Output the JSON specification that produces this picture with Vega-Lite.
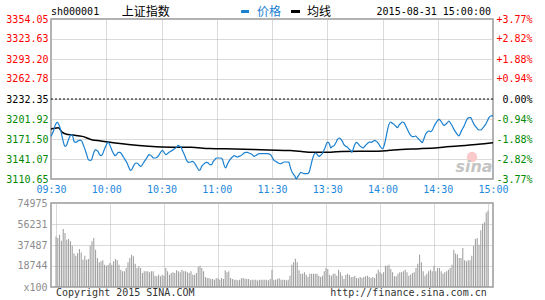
{
  "$schema": "https://vega.github.io/schema/vega-lite/v6.json",
  "background": "white",
  "padding": {"left": 5, "top": 5, "right": 0, "bottom": 0},
  "spacing": 24,
  "bounds": "flush",
  "config": {
    "view": {"stroke": "#999999", "strokeWidth": 1.5},
    "axis": {"labelFont": "DejaVu Sans Mono", "labelFontSize": 10, "ticks": false, "tickSize": 0, "domain": false, "gridColor": "#b4b4b4", "gridDash": [1, 1], "gridWidth": 1}
  },
  "datasets": {
    "price": [
      {"t":0,"p":3175.6},{"t":1.3,"p":3183.2},{"t":2.2,"p":3191.8},{"t":3.4,"p":3196.9},{"t":4.3,"p":3193.3},{"t":5.2,"p":3185.7},{"t":6.2,"p":3173.0},{"t":7.1,"p":3162.9},{"t":7.6,"p":3160.3},{"t":8.3,"p":3161.4},{"t":9.2,"p":3168.0},{"t":10.1,"p":3174.5},{"t":11.0,"p":3178.1},{"t":11.8,"p":3175.6},{"t":12.5,"p":3168.0},{"t":13.4,"p":3166.4},{"t":14.3,"p":3167.9},{"t":15.2,"p":3169.5},{"t":16.3,"p":3169.5},{"t":17.0,"p":3166.4},{"t":17.7,"p":3161.4},{"t":18.5,"p":3155.3},{"t":19.4,"p":3147.7},{"t":20.3,"p":3140.1},{"t":21.4,"p":3139.0},{"t":22.1,"p":3140.1},{"t":22.6,"p":3145.1},{"t":23.3,"p":3151.2},{"t":24.1,"p":3155.3},{"t":24.8,"p":3154.3},{"t":25.5,"p":3152.7},{"t":26.4,"p":3147.7},{"t":27.3,"p":3146.1},{"t":28.1,"p":3149.2},{"t":28.8,"p":3154.3},{"t":29.7,"p":3160.3},{"t":30.6,"p":3165.4},{"t":31.1,"p":3166.4},{"t":31.9,"p":3162.9},{"t":32.6,"p":3157.8},{"t":33.3,"p":3152.7},{"t":34.0,"p":3149.2},{"t":34.8,"p":3146.1},{"t":35.7,"p":3148.2},{"t":36.6,"p":3151.2},{"t":37.5,"p":3151.2},{"t":38.2,"p":3149.2},{"t":39.1,"p":3145.1},{"t":40.2,"p":3140.1},{"t":41.3,"p":3135.0},{"t":42.4,"p":3127.4},{"t":43.1,"p":3123.8},{"t":43.8,"p":3124.9},{"t":44.7,"p":3129.9},{"t":45.6,"p":3134.0},{"t":46.3,"p":3135.0},{"t":47.2,"p":3134.0},{"t":48.1,"p":3130.9},{"t":48.9,"p":3129.9},{"t":49.6,"p":3132.5},{"t":50.7,"p":3137.5},{"t":51.4,"p":3140.1},{"t":52.5,"p":3145.1},{"t":53.2,"p":3147.7},{"t":53.9,"p":3147.2},{"t":54.8,"p":3145.1},{"t":55.7,"p":3142.6},{"t":56.7,"p":3142.6},{"t":57.6,"p":3143.6},{"t":58.6,"p":3147.0},{"t":59.5,"p":3151.2},{"t":60.5,"p":3154.3},{"t":61.4,"p":3151.2},{"t":62.3,"p":3147.7},{"t":63.2,"p":3149.2},{"t":64.1,"p":3151.2},{"t":65.0,"p":3152.7},{"t":65.9,"p":3154.3},{"t":66.8,"p":3156.3},{"t":67.7,"p":3157.8},{"t":68.6,"p":3160.3},{"t":69.1,"p":3161.9},{"t":69.9,"p":3160.3},{"t":70.6,"p":3159.3},{"t":71.3,"p":3154.3},{"t":72.2,"p":3149.2},{"t":73.1,"p":3142.6},{"t":74.0,"p":3137.5},{"t":74.9,"p":3136.0},{"t":75.8,"p":3136.5},{"t":76.7,"p":3137.5},{"t":77.6,"p":3136.0},{"t":78.5,"p":3132.5},{"t":79.5,"p":3127.4},{"t":80.4,"p":3123.8},{"t":81.1,"p":3124.9},{"t":81.8,"p":3129.9},{"t":82.7,"p":3132.5},{"t":83.6,"p":3135.0},{"t":84.5,"p":3136.0},{"t":85.4,"p":3135.0},{"t":86.2,"p":3132.5},{"t":87.2,"p":3132.5},{"t":88.1,"p":3137.5},{"t":89.0,"p":3140.1},{"t":89.8,"p":3142.6},{"t":90.7,"p":3142.6},{"t":92.1,"p":3142.6},{"t":93.0,"p":3141.1},{"t":93.9,"p":3132.5},{"t":94.8,"p":3127.4},{"t":95.7,"p":3132.5},{"t":96.6,"p":3137.5},{"t":97.5,"p":3141.1},{"t":98.5,"p":3144.1},{"t":99.4,"p":3146.1},{"t":100.3,"p":3145.1},{"t":101.2,"p":3144.1},{"t":102.1,"p":3145.1},{"t":103.0,"p":3146.1},{"t":103.9,"p":3147.7},{"t":104.8,"p":3150.2},{"t":105.7,"p":3151.2},{"t":106.6,"p":3151.2},{"t":107.5,"p":3150.2},{"t":108.4,"p":3149.2},{"t":109.3,"p":3147.7},{"t":110.2,"p":3145.1},{"t":112.0,"p":3147.7},{"t":112.9,"p":3149.2},{"t":114.7,"p":3149.2},{"t":117.5,"p":3149.2},{"t":119.3,"p":3147.7},{"t":120.2,"p":3143.0},{"t":121.1,"p":3139.0},{"t":122.0,"p":3137.5},{"t":123.4,"p":3135.0},{"t":124.7,"p":3134.0},{"t":125.6,"p":3135.0},{"t":126.5,"p":3136.5},{"t":128.3,"p":3136.5},{"t":129.2,"p":3136.0},{"t":129.8,"p":3129.9},{"t":130.5,"p":3123.8},{"t":131.4,"p":3118.8},{"t":132.5,"p":3114.7},{"t":133.2,"p":3110.6},{"t":133.9,"p":3113.7},{"t":134.7,"p":3117.2},{"t":135.6,"p":3120.8},{"t":136.5,"p":3119.8},{"t":137.4,"p":3118.8},{"t":138.3,"p":3118.8},{"t":139.2,"p":3118.8},{"t":140.1,"p":3120.8},{"t":141.0,"p":3129.9},{"t":141.9,"p":3140.1},{"t":142.8,"p":3147.7},{"t":143.7,"p":3150.2},{"t":144.6,"p":3147.7},{"t":145.5,"p":3145.1},{"t":146.4,"p":3146.6},{"t":147.3,"p":3149.2},{"t":148.2,"p":3154.3},{"t":149.1,"p":3160.3},{"t":150.0,"p":3166.4},{"t":150.6,"p":3166.4},{"t":151.3,"p":3162.9},{"t":151.9,"p":3157.8},{"t":152.8,"p":3160.3},{"t":153.7,"p":3161.4},{"t":154.6,"p":3165.4},{"t":155.5,"p":3170.5},{"t":156.4,"p":3173.0},{"t":157.3,"p":3171.5},{"t":158.2,"p":3167.9},{"t":159.1,"p":3162.9},{"t":160.0,"p":3160.3},{"t":160.9,"p":3159.3},{"t":161.8,"p":3156.3},{"t":162.7,"p":3154.3},{"t":163.3,"p":3151.2},{"t":164.0,"p":3155.3},{"t":164.9,"p":3162.9},{"t":165.8,"p":3166.4},{"t":166.7,"p":3164.4},{"t":167.6,"p":3161.4},{"t":168.5,"p":3159.3},{"t":169.4,"p":3157.8},{"t":170.3,"p":3160.3},{"t":171.2,"p":3162.9},{"t":172.1,"p":3165.4},{"t":173.0,"p":3166.9},{"t":173.9,"p":3166.4},{"t":174.8,"p":3167.9},{"t":175.8,"p":3169.5},{"t":176.7,"p":3167.9},{"t":177.6,"p":3165.4},{"t":178.5,"p":3161.5},{"t":179.4,"p":3158.0},{"t":180.1,"p":3156.8},{"t":180.8,"p":3160.9},{"t":181.7,"p":3171.0},{"t":182.6,"p":3183.7},{"t":183.5,"p":3193.8},{"t":184.4,"p":3197.4},{"t":185.3,"p":3195.3},{"t":186.2,"p":3193.8},{"t":187.1,"p":3191.3},{"t":188.1,"p":3188.7},{"t":188.9,"p":3192.3},{"t":189.9,"p":3195.3},{"t":190.8,"p":3197.4},{"t":191.7,"p":3196.3},{"t":192.6,"p":3191.3},{"t":193.5,"p":3186.2},{"t":194.4,"p":3181.1},{"t":195.3,"p":3177.1},{"t":196.2,"p":3175.0},{"t":197.1,"p":3175.0},{"t":198.0,"p":3176.1},{"t":198.9,"p":3173.5},{"t":199.8,"p":3171.0},{"t":200.7,"p":3168.5},{"t":201.6,"p":3165.9},{"t":202.5,"p":3172.0},{"t":203.4,"p":3178.6},{"t":204.3,"p":3182.2},{"t":205.2,"p":3183.7},{"t":206.1,"p":3182.7},{"t":207.1,"p":3185.2},{"t":207.9,"p":3190.3},{"t":208.9,"p":3195.3},{"t":209.8,"p":3198.9},{"t":210.7,"p":3201.4},{"t":211.6,"p":3198.9},{"t":212.5,"p":3195.3},{"t":213.4,"p":3192.3},{"t":214.3,"p":3193.8},{"t":215.2,"p":3196.3},{"t":216.1,"p":3198.9},{"t":217.0,"p":3195.3},{"t":217.9,"p":3191.3},{"t":218.8,"p":3186.2},{"t":219.7,"p":3182.2},{"t":220.6,"p":3178.6},{"t":221.5,"p":3176.1},{"t":222.4,"p":3181.1},{"t":223.3,"p":3186.2},{"t":224.3,"p":3191.3},{"t":225.2,"p":3197.4},{"t":226.1,"p":3202.4},{"t":227.0,"p":3203.9},{"t":227.9,"p":3203.9},{"t":228.8,"p":3198.9},{"t":229.7,"p":3193.8},{"t":230.6,"p":3190.3},{"t":231.5,"p":3187.2},{"t":232.4,"p":3185.2},{"t":233.3,"p":3185.2},{"t":234.2,"p":3187.2},{"t":235.1,"p":3190.3},{"t":236.0,"p":3193.8},{"t":236.9,"p":3198.9},{"t":237.8,"p":3203.9},{"t":238.7,"p":3206.5},{"t":239.6,"p":3207.0},{"t":240,"p":3207.5}
    ],
    "avg": [
      {"t":0,"a":3186.7},{"t":2,"a":3188.0},{"t":4,"a":3188.5},{"t":6,"a":3182.0},{"t":8,"a":3179.0},{"t":12,"a":3177.5},{"t":17,"a":3175.5},{"t":22,"a":3170.5},{"t":27,"a":3168.5},{"t":32,"a":3166.5},{"t":42,"a":3163.0},{"t":53,"a":3160.3},{"t":60,"a":3159.3},{"t":76,"a":3158.8},{"t":86,"a":3157.0},{"t":100,"a":3156.3},{"t":118,"a":3154.8},{"t":130,"a":3154.0},{"t":135,"a":3152.8},{"t":142,"a":3151.3},{"t":152,"a":3151.5},{"t":158,"a":3152.5},{"t":178,"a":3153.0},{"t":184,"a":3154.3},{"t":190,"a":3155.6},{"t":200,"a":3156.8},{"t":210,"a":3158.3},{"t":221,"a":3160.9},{"t":232,"a":3163.4},{"t":240,"a":3165.9}
    ],
    "vol": [
      {"t":0,"v":45000},{"t":1,"v":43700},{"t":2,"v":46700},{"t":3,"v":41300},{"t":4,"v":51800},{"t":5,"v":48200},{"t":6,"v":42200},{"t":7,"v":42800},{"t":8,"v":40800},{"t":9,"v":36900},{"t":10,"v":30000},{"t":11,"v":27900},{"t":12,"v":30300},{"t":13,"v":33900},{"t":14,"v":30900},{"t":15,"v":24400},{"t":16,"v":27900},{"t":17,"v":24400},{"t":18,"v":25000},{"t":19,"v":36900},{"t":20,"v":40800},{"t":21,"v":43700},{"t":22,"v":33300},{"t":23,"v":25900},{"t":24,"v":22000},{"t":25,"v":22900},{"t":26,"v":23800},{"t":27,"v":19900},{"t":28,"v":19000},{"t":29,"v":19900},{"t":30,"v":21400},{"t":31,"v":19900},{"t":32,"v":22900},{"t":33,"v":25000},{"t":34,"v":23800},{"t":35,"v":19900},{"t":36,"v":15500},{"t":37,"v":14000},{"t":38,"v":14000},{"t":39,"v":17000},{"t":40,"v":22000},{"t":41,"v":25900},{"t":42,"v":28800},{"t":43,"v":27400},{"t":44,"v":20800},{"t":45,"v":17000},{"t":46,"v":18500},{"t":47,"v":17000},{"t":48,"v":12500},{"t":49,"v":14000},{"t":50,"v":14000},{"t":51,"v":14000},{"t":52,"v":13100},{"t":53,"v":14000},{"t":54,"v":14000},{"t":55,"v":10100},{"t":56,"v":9500},{"t":57,"v":11000},{"t":58,"v":9500},{"t":59,"v":11000},{"t":60,"v":10100},{"t":61,"v":17000},{"t":62,"v":14000},{"t":63,"v":11000},{"t":64,"v":12500},{"t":65,"v":13100},{"t":66,"v":12500},{"t":67,"v":14900},{"t":68,"v":14000},{"t":69,"v":13100},{"t":70,"v":15500},{"t":71,"v":14000},{"t":72,"v":14000},{"t":73,"v":13100},{"t":74,"v":12500},{"t":75,"v":14000},{"t":76,"v":11000},{"t":77,"v":11000},{"t":78,"v":12500},{"t":79,"v":17900},{"t":80,"v":19000},{"t":81,"v":17000},{"t":82,"v":14000},{"t":83,"v":8900},{"t":84,"v":8000},{"t":85,"v":8000},{"t":86,"v":7100},{"t":87,"v":7100},{"t":88,"v":6500},{"t":89,"v":7700},{"t":90,"v":7700},{"t":91,"v":6500},{"t":92,"v":8000},{"t":93,"v":7100},{"t":94,"v":14900},{"t":95,"v":13100},{"t":96,"v":14000},{"t":97,"v":8000},{"t":98,"v":7100},{"t":99,"v":6500},{"t":100,"v":6500},{"t":101,"v":6000},{"t":102,"v":6500},{"t":103,"v":7700},{"t":104,"v":8000},{"t":105,"v":7400},{"t":106,"v":7100},{"t":107,"v":7100},{"t":108,"v":6000},{"t":109,"v":6500},{"t":110,"v":6500},{"t":111,"v":6500},{"t":112,"v":5800},{"t":113,"v":6500},{"t":114,"v":6500},{"t":115,"v":6500},{"t":116,"v":6500},{"t":117,"v":6500},{"t":118,"v":6000},{"t":119,"v":7100},{"t":120,"v":15500},
      {"t":121,"v":6500},{"t":122,"v":6500},{"t":123,"v":7100},{"t":124,"v":7700},{"t":125,"v":6500},{"t":126,"v":6500},{"t":127,"v":6500},{"t":128,"v":6000},{"t":129,"v":6500},{"t":130,"v":10100},{"t":131,"v":19900},{"t":132,"v":22000},{"t":133,"v":25300},{"t":134,"v":22000},{"t":135,"v":14900},{"t":136,"v":11900},{"t":137,"v":11900},{"t":138,"v":13100},{"t":139,"v":11000},{"t":140,"v":8900},{"t":141,"v":11900},{"t":142,"v":11900},{"t":143,"v":11900},{"t":144,"v":11900},{"t":145,"v":11900},{"t":146,"v":10100},{"t":147,"v":8900},{"t":148,"v":10100},{"t":149,"v":14000},{"t":150,"v":17000},{"t":151,"v":16100},{"t":152,"v":11000},{"t":153,"v":10100},{"t":154,"v":11900},{"t":155,"v":11900},{"t":156,"v":10100},{"t":157,"v":15500},{"t":158,"v":13100},{"t":159,"v":10100},{"t":160,"v":7100},{"t":161,"v":11000},{"t":162,"v":11900},{"t":163,"v":10700},{"t":164,"v":8900},{"t":165,"v":8900},{"t":166,"v":10100},{"t":167,"v":8000},{"t":168,"v":7700},{"t":169,"v":8900},{"t":170,"v":8000},{"t":171,"v":8900},{"t":172,"v":9500},{"t":173,"v":10100},{"t":174,"v":8900},{"t":175,"v":8000},{"t":176,"v":8900},{"t":177,"v":8000},{"t":178,"v":11900},{"t":179,"v":15500},{"t":180,"v":13100},{"t":181,"v":11900},{"t":182,"v":13100},{"t":183,"v":19000},{"t":184,"v":19000},{"t":185,"v":19900},{"t":186,"v":16100},{"t":187,"v":13100},{"t":188,"v":9500},{"t":189,"v":9500},{"t":190,"v":11900},{"t":191,"v":13100},{"t":192,"v":13100},{"t":193,"v":14000},{"t":194,"v":15500},{"t":195,"v":13100},{"t":196,"v":10100},{"t":197,"v":11000},{"t":198,"v":12500},{"t":199,"v":13100},{"t":200,"v":17000},{"t":201,"v":20800},{"t":202,"v":28900},{"t":203,"v":22000},{"t":204,"v":14000},{"t":205,"v":10100},{"t":206,"v":11900},{"t":207,"v":14000},{"t":208,"v":15500},{"t":209,"v":14000},{"t":210,"v":19000},{"t":211,"v":14000},{"t":212,"v":17000},{"t":213,"v":17000},{"t":214,"v":14000},{"t":215,"v":11900},{"t":216,"v":13100},{"t":217,"v":14000},{"t":218,"v":15500},{"t":219,"v":17000},{"t":220,"v":19900},{"t":221,"v":33300},{"t":222,"v":29800},{"t":223,"v":28900},{"t":224,"v":25900},{"t":225,"v":25900},{"t":226,"v":34800},{"t":227,"v":23800},{"t":228,"v":22900},{"t":229,"v":23800},{"t":230,"v":23800},{"t":231,"v":28000},{"t":232,"v":36900},{"t":233,"v":42800},{"t":234,"v":43700},{"t":235,"v":37800},{"t":236,"v":50600},{"t":237,"v":56500},{"t":238,"v":57700},{"t":239,"v":66600},{"t":240,"v":68000}
    ],
    "one": [{}]
  },
  "resolve": {"scale": {"x": "independent", "y": "independent"}},
  "vconcat": [
    {
      "width": 442,
      "height": 160,
      "resolve": {"scale": {"y": "independent"}},
      "layer": [
        {
          "data": {"name": "one"},
          "mark": {"type": "point", "shape": "circle", "filled": true, "color": "#f9caca", "size": 110, "opacity": 1},
          "encoding": {
            "x": {"datum": 228.6, "type": "quantitative", "scale": {"domain": [0, 240], "nice": false, "zero": false}},
            "y": {"datum": 3144.1, "type": "quantitative", "scale": {"domain": [3110.65, 3354.05], "nice": false, "zero": false}, "axis": null}
          }
        },
        {
          "data": {"name": "one"},
          "mark": {"type": "text", "text": "sina", "font": "DejaVu Sans", "fontSize": 16, "fontStyle": "italic", "fontWeight": "bold", "color": "#c4c4c4", "align": "center", "baseline": "middle"},
          "encoding": {
            "x": {"datum": 229.7, "type": "quantitative", "scale": {"domain": [0, 240], "nice": false, "zero": false}},
            "y": {"datum": 3128.9, "type": "quantitative", "scale": {"domain": [3110.65, 3354.05], "nice": false, "zero": false}, "axis": null}
          }
        },
        {
          "data": {"name": "avg"},
          "mark": {"type": "line", "color": "#000000", "strokeWidth": 1.5, "interpolate": "monotone"},
          "encoding": {
            "x": {
              "field": "t", "type": "quantitative", "title": null,
              "scale": {"domain": [0, 240], "nice": false, "zero": false},
              "axis": {
                "values": [0, 30, 60, 90, 120, 150, 180, 210, 240],
                "labelExpr": "['09:30','10:00','10:30','11:00','11:30','13:30','14:00','14:30','15:00'][round(datum.value / 30)]",
                "labelColor": "#1e88dd", "labelPadding": 5, "labelFlush": false, "grid": true
              }
            },
            "y": {
              "field": "a", "type": "quantitative", "title": null,
              "scale": {"domain": [3110.65, 3354.05], "nice": false, "zero": false},
              "axis": {
                "orient": "left",
                "values": [3110.65, 3141.07, 3171.5, 3201.92, 3232.35, 3262.78, 3293.2, 3323.63, 3354.05],
                "labelExpr": "format(datum.value, '.2f')",
                "labelPadding": 3, "grid": true,
                "labelColor": {"condition": [{"test": "datum.value > 3232.4", "value": "#ff0000"}, {"test": "datum.value < 3232.3", "value": "#008800"}], "value": "#000000"}
              }
            }
          }
        },
        {
          "data": {"name": "one"},
          "mark": {"type": "rule", "color": "#000000", "strokeWidth": 1, "strokeDash": [2, 2]},
          "encoding": {
            "y": {"datum": 3232.35, "type": "quantitative", "scale": {"domain": [3110.65, 3354.05], "nice": false, "zero": false}, "axis": null}
          }
        },
        {
          "data": {"name": "price"},
          "mark": {"type": "line", "color": "#1a80d0", "strokeWidth": 1.2, "interpolate": "monotone"},
          "encoding": {
            "x": {"field": "t", "type": "quantitative", "title": null, "scale": {"domain": [0, 240], "nice": false, "zero": false}},
            "y": {
              "field": "p", "type": "quantitative", "title": null,
              "scale": {"domain": [3110.65, 3354.05], "nice": false, "zero": false},
              "axis": {
                "orient": "right",
                "values": [3110.65, 3141.07, 3171.5, 3201.92, 3232.35, 3262.78, 3293.2, 3323.63, 3354.05],
                "labelExpr": "(datum.value > 3232.4 ? '+' : (datum.value < 3232.3 ? '-' : '')) + format(abs(datum.value - 3232.35) / 3232.35 * 100, '.2f') + '%'",
                "labelAlign": "right", "labelPadding": 39, "grid": false,
                "labelColor": {"condition": [{"test": "datum.value > 3232.4", "value": "#ff0000"}, {"test": "datum.value < 3232.3", "value": "#008800"}], "value": "#000000"}
              }
            }
          }
        },
        {
          "data": {"name": "one"},
          "mark": {"type": "text", "text": "sh000001", "font": "DejaVu Sans Mono", "fontSize": 10, "color": "#000000", "align": "left", "baseline": "middle"},
          "encoding": {
            "x": {"datum": 0, "type": "quantitative", "scale": {"domain": [0, 240], "nice": false, "zero": false}},
            "y": {"datum": 3364.7, "type": "quantitative", "scale": {"domain": [3110.65, 3354.05], "nice": false, "zero": false}, "axis": null}
          }
        },
        {
          "data": {"name": "one"},
          "mark": {"type": "text", "text": "上证指数", "font": "Noto Sans CJK SC", "fontSize": 12, "color": "#000000", "align": "left", "baseline": "middle"},
          "encoding": {
            "x": {"datum": 38.4, "type": "quantitative", "scale": {"domain": [0, 240], "nice": false, "zero": false}},
            "y": {"datum": 3364.0, "type": "quantitative", "scale": {"domain": [3110.65, 3354.05], "nice": false, "zero": false}, "axis": null}
          }
        },
        {
          "data": {"name": "one"},
          "mark": {"type": "rule", "color": "#1a80d0", "strokeWidth": 3},
          "encoding": {
            "x": {"datum": 103.2, "type": "quantitative", "scale": {"domain": [0, 240], "nice": false, "zero": false}},
            "x2": {"datum": 107.5},
            "y": {"datum": 3365.5, "type": "quantitative", "scale": {"domain": [3110.65, 3354.05], "nice": false, "zero": false}, "axis": null}
          }
        },
        {
          "data": {"name": "one"},
          "mark": {"type": "text", "text": "价格", "font": "Noto Sans CJK SC", "fontSize": 12, "color": "#1a80d0", "align": "left", "baseline": "middle"},
          "encoding": {
            "x": {"datum": 111.9, "type": "quantitative", "scale": {"domain": [0, 240], "nice": false, "zero": false}},
            "y": {"datum": 3364.0, "type": "quantitative", "scale": {"domain": [3110.65, 3354.05], "nice": false, "zero": false}, "axis": null}
          }
        },
        {
          "data": {"name": "one"},
          "mark": {"type": "rule", "color": "#000000", "strokeWidth": 3},
          "encoding": {
            "x": {"datum": 130.3, "type": "quantitative", "scale": {"domain": [0, 240], "nice": false, "zero": false}},
            "x2": {"datum": 135.2},
            "y": {"datum": 3365.5, "type": "quantitative", "scale": {"domain": [3110.65, 3354.05], "nice": false, "zero": false}, "axis": null}
          }
        },
        {
          "data": {"name": "one"},
          "mark": {"type": "text", "text": "均线", "font": "Noto Sans CJK SC", "fontSize": 12, "color": "#000000", "align": "left", "baseline": "middle"},
          "encoding": {
            "x": {"datum": 139.0, "type": "quantitative", "scale": {"domain": [0, 240], "nice": false, "zero": false}},
            "y": {"datum": 3364.0, "type": "quantitative", "scale": {"domain": [3110.65, 3354.05], "nice": false, "zero": false}, "axis": null}
          }
        },
        {
          "data": {"name": "one"},
          "mark": {"type": "text", "text": "2015-08-31 15:00:00", "font": "DejaVu Sans Mono", "fontSize": 10, "color": "#000000", "align": "right", "baseline": "middle"},
          "encoding": {
            "x": {"datum": 238.9, "type": "quantitative", "scale": {"domain": [0, 240], "nice": false, "zero": false}},
            "y": {"datum": 3364.4, "type": "quantitative", "scale": {"domain": [3110.65, 3354.05], "nice": false, "zero": false}, "axis": null}
          }
        }
      ]
    },
    {
      "width": 442,
      "height": 84,
      "resolve": {"scale": {"y": "independent"}},
      "layer": [
        {
          "data": {"name": "vol"},
          "mark": {"type": "bar", "color": "#999999", "size": 1, "orient": "vertical"},
          "encoding": {
            "x": {
              "field": "t", "type": "quantitative", "title": null,
              "scale": {"domain": [0, 240], "nice": false, "zero": false},
              "axis": {"values": [0, 30, 60, 90, 120, 150, 180, 210, 240], "labels": false, "grid": true}
            },
            "y": {
              "field": "v", "type": "quantitative", "title": null,
              "scale": {"domain": [0, 74975], "nice": false},
              "axis": {
                "values": [0, 18744, 37487, 56231, 74975],
                "labelExpr": "datum.value == 0 ? 'x100' : format(datum.value, 'd')",
                "labelColor": "#8c8c8c", "labelPadding": 4, "grid": true
              }
            }
          }
        },
        {
          "data": {"name": "one"},
          "mark": {"type": "text", "text": "Copyright 2015 SINA.COM", "font": "DejaVu Sans Mono", "fontSize": 10, "color": "#333333", "align": "left", "baseline": "middle"},
          "encoding": {
            "x": {"datum": 0, "type": "quantitative", "scale": {"domain": [0, 240], "nice": false, "zero": false}},
            "y": {"datum": -5100, "type": "quantitative", "scale": {"domain": [0, 74975], "nice": false}, "axis": null}
          }
        },
        {
          "data": {"name": "one"},
          "mark": {"type": "text", "text": "http://finance.sina.com.cn", "font": "DejaVu Sans Mono", "fontSize": 10, "color": "#333333", "align": "right", "baseline": "middle"},
          "encoding": {
            "x": {"datum": 239.3, "type": "quantitative", "scale": {"domain": [0, 240], "nice": false, "zero": false}},
            "y": {"datum": -5100, "type": "quantitative", "scale": {"domain": [0, 74975], "nice": false}, "axis": null}
          }
        }
      ]
    }
  ]
}
